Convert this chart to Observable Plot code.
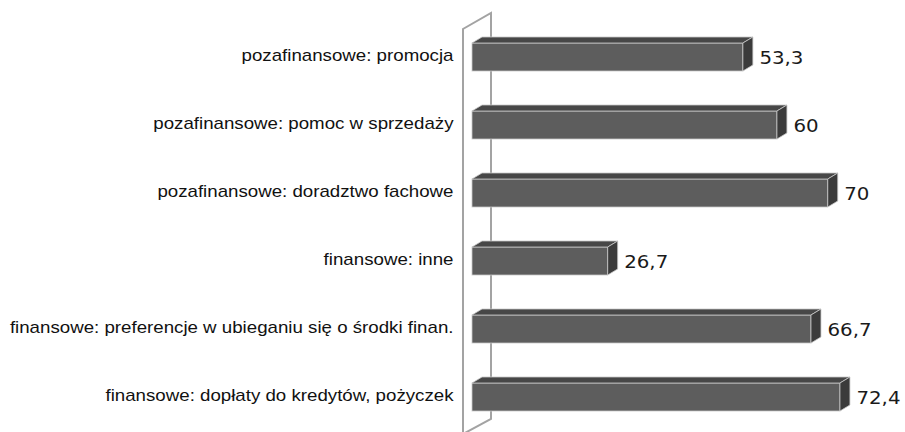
<!DOCTYPE html>
<html>
<head>
<meta charset="utf-8">
<script src="https://cdn.jsdelivr.net/npm/d3@7"></script>
<script src="https://cdn.jsdelivr.net/npm/@observablehq/plot@0.6"></script>
<style>
  html, body { margin: 0; padding: 0; background: #fff; }
  #chart svg { display: block; }
</style>
</head>
<body>
<div id="chart"></div>
<script>
const categories = [
  "pozafinansowe: promocja",
  "pozafinansowe: pomoc w sprzedaży",
  "pozafinansowe: doradztwo fachowe",
  "finansowe: inne",
  "finansowe: preferencje w ubieganiu się o środki finan.",
  "finansowe: dopłaty do kredytów, pożyczek"
];
const values = [53.3, 60, 70, 26.7, 66.7, 72.4];

const data = categories.map((c, i) => ({category: c, value: values[i]}));
const fmt = v => String(v).replace(".", ",");

const DX = 10, DY = 6; // 3D depth of bars (px)
const FRONT = "#5d5d5d", TOP = "#474747", SIDE = "#3b3b3b", EDGE = "#c8c8c8";

// horizontally stretch text around its own anchor (the reference text is widened)
function stretch(k) {
  return function(index, scales, vals, dims, ctx, next) {
    const g = next(index, scales, vals, dims, ctx);
    d3.select(g).selectAll("text").each(function() {
      const t = this.getAttribute("transform") || "";
      const x = parseFloat(this.getAttribute("x")) || 0;
      this.setAttribute("transform", `${t} translate(${x},0) scale(${k},1) translate(${-x},0)`);
    });
    return g;
  };
}

function bars3d(data, options) {
  return Plot.barX(data, {
    ...options,
    render(index, scales, vals, dims, ctx, next) {
      const g = next(index, scales, vals, dims, ctx);
      const sel = d3.select(g);
      const bw = scales.y.bandwidth();
      for (const i of index) {
        const d = data[i];
        const x0 = scales.x(0), x1 = scales.x(d.value);
        const y0 = scales.y(d.category), y1 = y0 + bw;
        sel.append("path")
          .attr("d", `M${x0},${y0}L${x0 + DX},${y0 - DY}L${x1 + DX},${y0 - DY}L${x1},${y0}Z`)
          .attr("fill", TOP).attr("stroke", EDGE).attr("stroke-width", 0.8).attr("stroke-linejoin", "round");
        sel.append("path")
          .attr("d", `M${x1},${y0}L${x1 + DX},${y0 - DY}L${x1 + DX},${y1 - DY}L${x1},${y1}Z`)
          .attr("fill", SIDE).attr("stroke", EDGE).attr("stroke-width", 0.8).attr("stroke-linejoin", "round");
      }
      return g;
    }
  });
}

function wall() {
  return Plot.ruleX([0], {
    render(index, scales, vals, dims, ctx) {
      const x0 = scales.x(0);
      const fx = x0 - 9, bx = x0 + 19;
      const top = 29, btop = 13, bb = dims.height - 13, fb = dims.height;
      const g = d3.create("svg:g");
      g.append("path")
        .attr("d", `M${fx},${fb + 2}L${fx},${top}L${bx},${btop}L${bx},${bb}L${fx},${fb + 2}`)
        .attr("fill", "none").attr("stroke", "#a3a3a3").attr("stroke-width", 2);
      return g.node();
    }
  });
}

const chart = Plot.plot({
  width: 905,
  height: 432,
  marginLeft: 472,
  marginRight: 0,
  marginTop: 0,
  marginBottom: 0,
  style: {fontFamily: "'Liberation Sans', Arial, sans-serif", background: "#fff"},
  x: {domain: [0, 85.2], axis: null},
  y: {domain: categories, range: [43, 411], paddingInner: 0.59, paddingOuter: 0, label: null},
  marks: [
    wall(),
    Plot.axisY({tickSize: 0, tickPadding: 19, fontSize: 16, label: null, dy: -2, fill: "#111",
      render: stretch(1.169)}),
    bars3d(data, {x: "value", y: "category", fill: FRONT, stroke: EDGE, strokeWidth: 0.8}),
    Plot.text(data, {
      x: "value", y: "category", text: d => fmt(d.value),
      textAnchor: "start", dx: 16, dy: 1,
      fontSize: 18, fill: "#1a1a1a",
      fontFamily: "'DejaVu Sans', Verdana, sans-serif",
      render: stretch(1.1)
    })
  ]
});

document.getElementById("chart").append(chart);
</script>
</body>
</html>
